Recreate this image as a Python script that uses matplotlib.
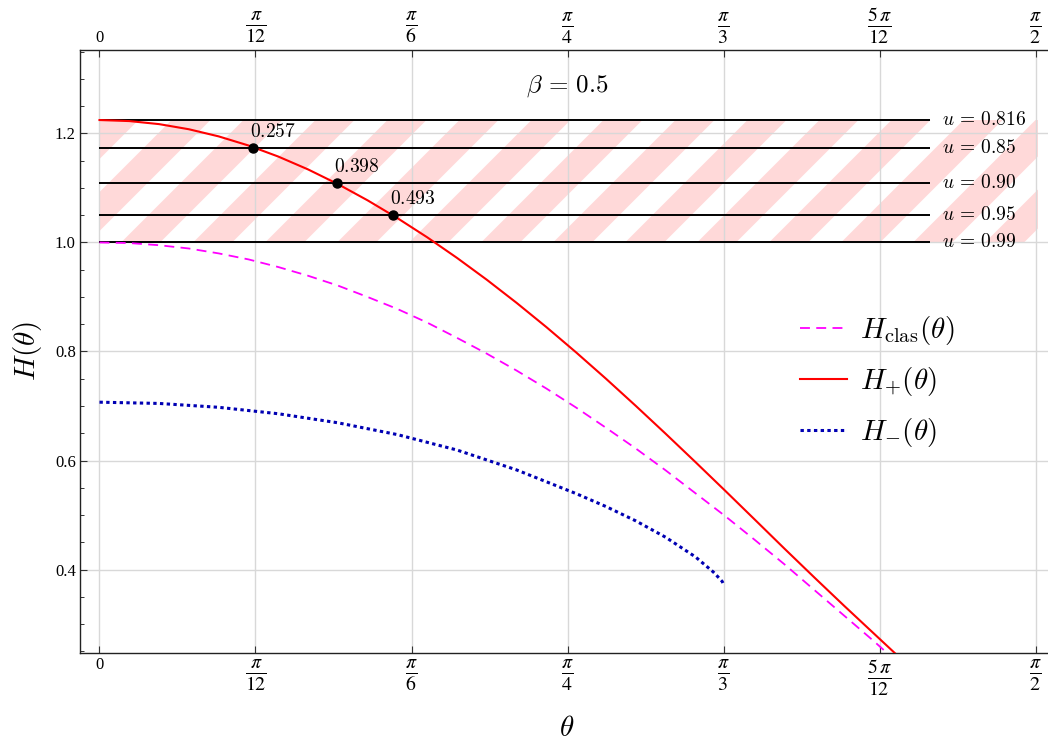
import numpy as np
import matplotlib
matplotlib.use("Agg")
import matplotlib.pyplot as plt
from matplotlib.patches import Rectangle
from matplotlib.collections import PolyCollection
from matplotlib.font_manager import FontProperties
from matplotlib.ticker import MultipleLocator

# ---------------- data ----------------
theta_clas = [0.0, 0.05, 0.1, 0.15, 0.2, 0.25, 0.3, 0.35, 0.4, 0.45, 0.5, 0.55, 0.6, 0.65,
              0.7, 0.75, 0.8, 0.85, 0.9, 0.95, 1.0, 1.05, 1.1, 1.15, 1.2, 1.25, 1.3, 1.35, 1.4]
H_clas = [1.0, 0.999, 0.995, 0.989, 0.980, 0.969, 0.955, 0.939, 0.921, 0.900, 0.878,
          0.853, 0.825, 0.796, 0.765, 0.732, 0.697, 0.660, 0.622, 0.582, 0.540, 0.498,
          0.454, 0.409, 0.362, 0.315, 0.268, 0.219, 0.170]

theta_plus = [0.0, 0.05, 0.1, 0.15, 0.2, 0.25, 0.3, 0.35, 0.4, 0.45, 0.5, 0.55, 0.6, 0.65,
              0.7, 0.75, 0.8, 0.85, 0.9, 0.95, 1.0, 1.05, 1.1, 1.15, 1.2, 1.25, 1.3, 1.35, 1.4]
H_plus = [1.2247, 1.2228, 1.2172, 1.2078, 1.1947, 1.1780, 1.1577, 1.1341, 1.1072, 1.0773,
          1.0447, 1.0095, 0.9717, 0.9316, 0.8892, 0.8447, 0.7982, 0.7500, 0.7002, 0.6492,
          0.5972, 0.5445, 0.4912, 0.4377, 0.3850, 0.3330, 0.2820, 0.2310, 0.1800]

theta_minus = [0.0, 0.1, 0.2, 0.3, 0.4, 0.5, 0.6, 0.7, 0.8, 0.85, 0.9, 0.95, 1.0,
               1.03, 1.04, 1.045, 1.047]
H_minus = [0.707, 0.7047, 0.6976, 0.6858, 0.6692, 0.6475, 0.6192, 0.5827, 0.5392,
           0.5155, 0.4892, 0.4592, 0.4232, 0.3955, 0.384, 0.378, 0.373]

u_labels = [r"$u\,=\,0.816$", r"$u\,=\,0.85$", r"$u\,=\,0.90$", r"$u\,=\,0.95$", r"$u\,=\,0.99$"]
u_levels = [1.2247, 1.174, 1.109, 1.051, 1.0]
u_line_end = 1.394

pt_theta = [0.257, 0.398, 0.493]
pt_H = [1.174, 1.109, 1.051]
pt_labels = [r"$0.257$", r"$0.398$", r"$0.493$"]

band_low, band_high = 1.0, 1.2247
band_x0, band_x1 = 0.0, 1.575

xtick_vals = [0, np.pi / 12, np.pi / 6, np.pi / 4, np.pi / 3, 5 * np.pi / 12, np.pi / 2]
xtick_labels = ["0", r"$\frac{\pi}{12}$", r"$\frac{\pi}{6}$", r"$\frac{\pi}{4}$",
                r"$\frac{\pi}{3}$", r"$\frac{5\,\pi}{12}$", r"$\frac{\pi}{2}$"]
ytick_vals = [0.4, 0.6, 0.8, 1.0, 1.2]
ytick_labels = ["0.4", "0.6", "0.8", "1.0", "1.2"]

legend_labels = [r"$H_{\rm clas}(\theta)$", r"$H_{+}(\theta)$", r"$H_{-}(\theta)$"]
beta_text = r"$\beta\,=\,0.5$"

# ---------------- figure ----------------
plt.rcParams["mathtext.fontset"] = "stix"
plt.rcParams["font.family"] = ["Liberation Serif", "DejaVu Serif"]

W, H = 1048, 742
fig = plt.figure(figsize=(W / 100, H / 100), dpi=100)
ax_l, ax_r, ax_t, ax_b = 80, 1048, 50, 653
ax = fig.add_axes([ax_l / W, 1 - ax_b / H, (ax_r - ax_l) / W, (ax_b - ax_t) / H])

xlim = (-0.0327, 1.5917)
ylim = (0.2468, 1.3532)
ax.set_xlim(*xlim)
ax.set_ylim(*ylim)

dx = (xlim[1] - xlim[0]) / (ax_r - ax_l)
dy = (ylim[1] - ylim[0]) / (ax_b - ax_t)

# ---------------- striped band ----------------
period, width = 72.0, 39.0
hpx = (band_high - band_low) / dy
wpx = (band_x1 - band_x0) / dx
polys = []
a = -hpx - 3 * period
while a < wpx + period:
    p = [(a, 0), (a + width, 0), (a + width + hpx, hpx), (a + hpx, hpx)]
    polys.append([(band_x0 + px * dx, band_low + py * dy) for px, py in p])
    a += period
pc = PolyCollection(polys, facecolor="#FFD9D9", edgecolor="none", zorder=0.3)
ax.add_collection(pc)
clip = Rectangle((band_x0, band_low), band_x1 - band_x0, band_high - band_low,
                 transform=ax.transData, facecolor="none", edgecolor="none")
pc.set_clip_path(clip)

# ---------------- grid ----------------
ax.set_axisbelow(True)
ax.grid(True, which="major", color="#D8D8D8", lw=1.0, zorder=0.5)

# ---------------- horizontal u lines ----------------
cm = dict(math_fontfamily="cm")
for lvl, lab in zip(u_levels, u_labels):
    ax.plot([0, u_line_end], [lvl, lvl], color="black", lw=1.4, zorder=3,
            solid_capstyle="butt")
    ax.text(u_line_end + 0.02, lvl, lab, fontsize=14, va="center", ha="left",
            zorder=4, **cm)

# ---------------- curves ----------------
l1, = ax.plot(theta_clas, H_clas, color="#FF00FF", lw=1.3, ls=(0, (5.5, 3.5)), zorder=4)
l2, = ax.plot(theta_plus, H_plus, color="#FF0000", lw=1.5, zorder=4)
l3, = ax.plot(theta_minus, H_minus, color="#0000B3", lw=2.2, ls=(0, (1.1, 1.1)), zorder=4)

ax.plot(pt_theta, pt_H, "o", color="black", ms=6.5, zorder=5)
for t, h, lab in zip(pt_theta, pt_H, pt_labels):
    ax.annotate(lab, (t, h), xytext=(-2, 5), textcoords="offset points",
                fontsize=14, ha="left", va="bottom", zorder=6, **cm)

ax.text(np.pi / 4, 1.287, beta_text, fontsize=18, ha="center", va="center", **cm)

# ---------------- axes styling ----------------
ax.set_xticks(xtick_vals, xtick_labels, fontsize=12)
ax.set_yticks(ytick_vals, ytick_labels, fontsize=12)
ax.yaxis.set_minor_locator(MultipleLocator(0.05))
ax.tick_params(axis="both", which="major", direction="in", length=5, width=0.8,
               color="#333333", pad=3)
ax.tick_params(axis="y", which="minor", direction="in", length=3, width=0.7,
               color="#333333")
ax.tick_params(axis="x", top=True, labeltop=True, bottom=True, labelbottom=True)
ax.tick_params(axis="y", right=False)
ax.spines["right"].set_visible(False)
for s in ("left", "top", "bottom"):
    ax.spines[s].set_linewidth(1.0)
    ax.spines[s].set_color("#222222")

ax.set_xlabel(r"$\theta$", fontsize=21, math_fontfamily="cm")
ax.xaxis.set_label_coords((567 - ax_l) / (ax_r - ax_l), (ax_b - 716) / (ax_b - ax_t))
ax.set_ylabel(r"$H(\theta)$", fontsize=21, labelpad=8, math_fontfamily="cm")

leg = ax.legend([l1, l2, l3], legend_labels, loc="upper left",
                bbox_to_anchor=(800 / W, 1 - 314 / H), bbox_transform=fig.transFigure,
                frameon=False, prop=FontProperties(size=21, math_fontfamily="cm"),
                handlelength=1.6, handletextpad=0.45, labelspacing=0.62,
                borderpad=0, borderaxespad=0)

fig.canvas.draw()
for i, tk in enumerate(ax.xaxis.get_major_ticks()):
    if i > 0:
        tk.label1.set_fontsize(20.5)
        tk.label2.set_fontsize(20.5)

fig.savefig("out.png", dpi=100)
